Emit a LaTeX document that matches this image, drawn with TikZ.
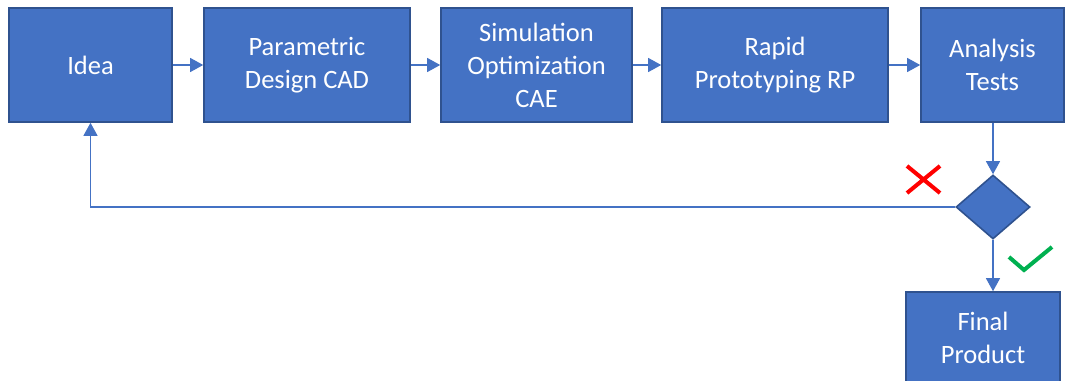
\documentclass[tikz,border=0pt]{standalone}
\usepackage{fontspec}
\setmainfont{Carlito}
\usetikzlibrary{arrows.meta, shapes.geometric}
\definecolor{officeblue}{RGB}{68, 114, 196}
\definecolor{edgeblue}{RGB}{47, 82, 143}
\definecolor{crossred}{RGB}{255, 0, 0}
\definecolor{tickgreen}{RGB}{0, 176, 80}

\begin{document}
\begin{tikzpicture}[x=1pt, y=-1pt,
  stagebox/.style={draw=edgeblue, line width=1.6pt, fill=officeblue, text=white,
    align=center, font=\fontsize{26.5}{33}\selectfont, inner sep=0pt, minimum height=114pt},
  flow/.style={officeblue, line width=1.1pt, -{Triangle[length=13pt, width=14pt]}}]
  \useasboundingbox (0,0) rectangle (1073,380);
  % Process stages
  \node[stagebox, minimum width=163pt] (idea) at (90.5,65) {Idea};
  \node[stagebox, minimum width=206pt] (cad) at (307,65) {Parametric\\Design CAD};
  \node[stagebox, minimum width=191pt] (cae) at (536.5,65) {Simulation\\Optimization\\CAE};
  \node[stagebox, minimum width=226pt] (rp) at (775,65) {Rapid\\Prototyping RP};
  \node[stagebox, minimum width=143pt] (tests) at (992.5,65) {Analysis\\Tests};
  % Decision
  \node[diamond, draw=edgeblue, line width=1.6pt, fill=officeblue, inner sep=0pt,
    minimum width=74pt, minimum height=64pt] (check) at (993,207) {};
  \node[stagebox, minimum width=154pt, minimum height=92pt] (final) at (983,338) {Final\\Product};
  % Connections
  \foreach \a/\b in {idea/cad, cad/cae, cae/rp, rp/tests} {
    \draw[flow] (\a) -- (\b);
  }
  \draw[flow] (tests.south -| check.north) -- (check.north);
  \draw[flow] (check.south) -- (check.south |- final.north);
  \draw[flow] (check.west) -| (idea.south);
  % Marks - rejected and accepted
  \draw[crossred, line width=4pt] (907,166) -- (940,193) (940,166) -- (907,193);
  \draw[tickgreen, line width=4pt] (1009,257) -- (1024,270) -- (1052,247);
\end{tikzpicture}
\end{document}
